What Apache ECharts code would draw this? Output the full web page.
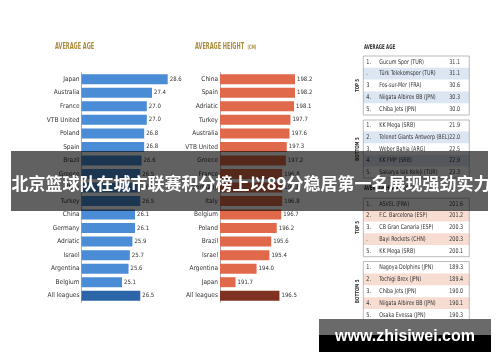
<!DOCTYPE html>
<html><head><meta charset="utf-8">
<script src="https://cdn.jsdelivr.net/npm/echarts@6/dist/echarts.min.js"></script>
<style>html,body{margin:0;padding:0;background:#fff}#c{width:500px;height:362px}</style>
</head><body><div id="c"></div>
<script>
// ---- data ----
const ageCats = ['Japan','Australia','France','VTB United','Poland','Spain','Brazil','Greece','Italy','Turkey','China','Germany','Adriatic','Israel','Argentina','Belgium','All leagues'];
const ageVals = [28.6,27.4,27.0,27.0,26.8,26.8,26.6,26.5,26.5,26.5,26.1,26.1,25.9,25.7,25.6,25.1,26.5];
const heightCats = ['China','Spain','Adriatic','Turkey','Australia','VTB United','Greece','France','Germany','Italy','Belgium','Poland','Brazil','Israel','Argentina','Japan','All leagues'];
const heightVals = [198.2,198.2,198.1,197.7,197.6,197.3,197.2,196.8,196.8,196.8,196.7,196.2,195.6,195.4,194.0,191.7,196.5];

const ageTopRank = ['1.','.','3','4.','5.'];
const ageTopTeams = ['Gucum Spor (TUR)','Türk Telekomspor (TUR)','Fos-sur-Mer (FRA)','Niigata Albirex BB (JPN)','Chiba Jets (JPN)'];
const ageTopVals = ['31.1','31.1','30.6','30.3','30.0'];
const ageBotRank = ['1.','2.','3.','4.','5.'];
const ageBotTeams = ['KK Mega (SRB)','Telenet Giants Antwerp (BEL)','Weber Bahia (ARG)','KK FMP (SRB)','Sakarya Isik Koleji (TUR)'];
const ageBotVals = ['21.9','22.0','22.5','22.9','23.3'];
const hTopRank = ['1.','2.','3.','.','5.'];
const hTopTeams = ['ASVEL (FRA)','F.C. Barcelona (ESP)','CB Gran Canaria (ESP)','Bayi Rockets (CHN)','KK Mega (SRB)'];
const hTopVals = ['201.6','201.2','200.3','200.3','200.1'];
const hBotRank = ['1.','2.','3.','4.','5.'];
const hBotTeams = ['Nagoya Dolphins (JPN)','Tochigi Brex (JPN)','Chiba Jets (JPN)','Niigata Albirex BB (JPN)','Osaka Evessa (JPN)'];
const hBotVals = ['189.3','189.4','190.0','190.1','190.3'];

const headline = '北京篮球队在城市联赛积分榜上以89分稳居第一名展现强劲实力';
const watermark = 'www.zhisiwei.com';

// ---- styling ----
const NARROW = '"Liberation Sans Narrow","DejaVu Sans Condensed",sans-serif';
const BLUE = '#4a8cd6', BLUE_D = '#2c66a8', ORANGE = '#e0694b', ORANGE_D = '#7f3122';
const GOLD = '#a98b3c';

function barData(vals, cats, c, cd) {
  return vals.map((v, i) => ({ value: v, itemStyle: { color: cats[i] === 'All leagues' ? cd : c } }));
}

function table(x0, y0, rowH, ranks, teams, vals, shade, side) {
  const w = 106, els = [];
  for (let i = 0; i < 5; i++) {
    const cy = y0 + rowH * i + rowH / 2;
    if (i % 2 === 1) els.push({ type: 'rect', shape: { x: x0, y: y0 + rowH * i, width: w, height: rowH }, style: { fill: shade } });
    const st = { fill: '#333', fontSize: 6.5, fontFamily: NARROW, verticalAlign: 'middle' };
    els.push({ type: 'text', x: x0 + 3, y: cy, scaleX: 0.85, style: Object.assign({ text: ranks[i] }, st) });
    els.push({ type: 'text', x: x0 + 16, y: cy, scaleX: 0.82, style: Object.assign({ text: teams[i] }, st) });
    els.push({ type: 'text', x: x0 + 86, y: cy, scaleX: 0.82, style: Object.assign({ text: vals[i] }, st) });
  }
  els.push({ type: 'rect', shape: { x: x0, y: y0, width: w, height: rowH * 5 }, style: { fill: null, stroke: '#aaa', lineWidth: 0.8 } });
  els.push({ type: 'text', x: 358, y: y0 + rowH * 2.5, rotation: Math.PI / 2, scaleX: 0.8,
    style: { text: side, fill: '#333', fontSize: 5.5, fontWeight: 'bold', fontFamily: NARROW, align: 'center', verticalAlign: 'middle' } });
  return els;
}

function heading(x, y, t, size, color, sx) {
  return { type: 'text', x: x, y: y, scaleX: sx, style: { text: t, fill: color, fontSize: size, fontWeight: 'bold', fontFamily: NARROW, verticalAlign: 'middle' } };
}

const graphics = [].concat(
  [
    heading(55, 46.7, 'AVERAGE AGE', 9, GOLD, 0.62),
    heading(195, 46.7, 'AVERAGE HEIGHT', 9, GOLD, 0.62),
    heading(247.5, 47.5, '(CM)', 6, GOLD, 0.62),
    heading(364, 47, 'AVERAGE AGE', 6.5, '#333', 0.68)
  ],
  table(363.3, 56, 11.8, ageTopRank, ageTopTeams, ageTopVals, '#dce6f2', 'TOP 5'),
  table(363.3, 120, 11.6, ageBotRank, ageBotTeams, ageBotVals, '#dce6f2', 'BOTTOM 5'),
  [heading(364, 188, 'AVERAGE HEIGHT (CM)', 6.5, '#333', 0.68)],
  table(363.3, 198.2, 11.7, hTopRank, hTopTeams, hTopVals, '#f7dcd2', 'TOP 5'),
  table(363.3, 261.5, 11.9, hBotRank, hBotTeams, hBotVals, '#f7dcd2', 'BOTTOM 5'),
  [
    { type: 'line', shape: { x1: 363.3, y1: 321, x2: 478, y2: 321 }, style: { stroke: '#888', lineWidth: 0.8 } },
    { type: 'rect', z: 100, shape: { x: 11, y: 151, width: 477, height: 60 }, style: { fill: 'rgba(0,0,0,0.62)' } },
    { type: 'text', z: 101, x: 251, y: 184, style: { text: headline, fill: '#fff', fontSize: 17, fontWeight: 'bold', fontFamily: '"Noto Sans CJK SC",sans-serif', align: 'center', verticalAlign: 'middle' } },
    { type: 'rect', z: 100, shape: { x: 319, y: 319, width: 172, height: 16 }, style: { fill: '#6a6a6a' } },
    { type: 'rect', z: 100, shape: { x: 319, y: 335, width: 172, height: 17 }, style: { fill: '#000' } },
    { type: 'text', z: 101, x: 405, y: 337, style: { text: watermark, fill: '#fff', fontSize: 16, fontWeight: 'bold', fontFamily: '"Liberation Sans",sans-serif', align: 'center', verticalAlign: 'middle' } }
  ]
);

const catLabel = { fontSize: 6.5, color: '#333', fontFamily: NARROW, margin: 2 };
const valLabel = () => ({ show: true, position: 'right', distance: 2, fontSize: 6, color: '#333', fontFamily: NARROW,
  formatter: p => Number(p.value).toFixed(1) });

const chart = echarts.init(document.getElementById('c'), null, { renderer: 'canvas' });
chart.setOption({
  animation: false,
  backgroundColor: '#fff',
  grid: [
    { left: 81.5, top: 72.5, width: 86.2, height: 230 },
    { left: 220, top: 72.5, width: 75, height: 230 }
  ],
  xAxis: [
    { gridIndex: 0, type: 'value', min: 22, max: 28.6, show: false },
    { gridIndex: 1, type: 'value', min: 190, max: 198.2, show: false }
  ],
  yAxis: [
    { gridIndex: 0, type: 'category', data: ageCats, inverse: true, axisTick: { show: false },
      axisLine: { lineStyle: { color: '#999', width: 0.8 } }, axisLabel: catLabel },
    { gridIndex: 1, type: 'category', data: heightCats, inverse: true, axisTick: { show: false },
      axisLine: { lineStyle: { color: '#999', width: 0.8 } }, axisLabel: catLabel }
  ],
  series: [
    { type: 'bar', xAxisIndex: 0, yAxisIndex: 0, barWidth: 10, data: barData(ageVals, ageCats, BLUE, BLUE_D), label: valLabel() },
    { type: 'bar', xAxisIndex: 1, yAxisIndex: 1, barWidth: 10, data: barData(heightVals, heightCats, ORANGE, ORANGE_D), label: valLabel() }
  ],
  graphic: graphics
});
</script></body></html>
